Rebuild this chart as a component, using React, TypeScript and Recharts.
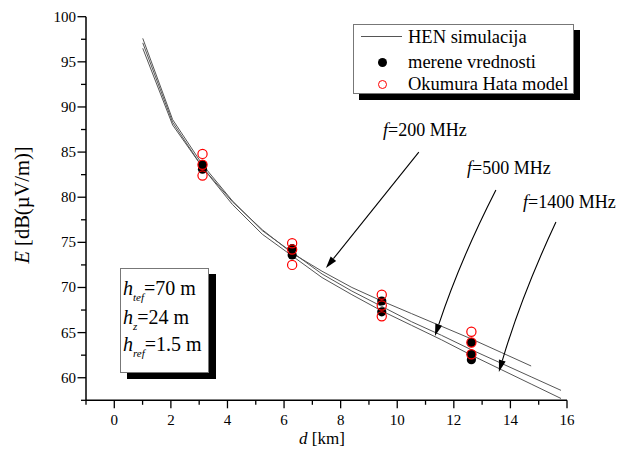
import React from 'react';
import { ComposedChart, Line, Scatter, XAxis, YAxis, ReferenceLine } from 'recharts';

// ---- data ----
const distances = [1, 2, 3, 4, 5, 6, 7, 8, 9, 10, 11, 12, 13, 14, 15];
const hen200 = [96.5, 88.0, 83.3, 79.5, 76.4, 73.8, 71.8, 70.0, 68.5, 67.1, 65.7, 64.3, 62.8, 61.3];
const hen500 = [97.6, 88.6, 83.6, 79.6, 76.3, 73.9, 71.5, 69.6, 67.9, 66.2, 64.7, 63.1, 61.6, 60.1, 58.6];
const hen1400 = [97.1, 88.3, 83.3, 79.2, 75.9, 73.5, 71.1, 69.2, 67.4, 65.8, 64.2, 62.5, 60.9, 59.3, 57.7];

const measuredD = [3, 3, 6, 6, 9, 9, 12, 12, 12];
const measuredE = [83.6, 83.1, 74.3, 73.6, 68.5, 67.3, 63.9, 62.6, 62.0];

const okumuraD = [3, 3, 3, 6, 6, 6, 9, 9, 9, 12, 12, 12];
const okumuraE = [84.8, 83.6, 82.4, 74.9, 74.2, 72.5, 69.2, 68.0, 66.8, 65.1, 63.9, 62.6];

// printed axis labels (as labelled in the original figure)
const xLabels = [-1, 0, 1, 2, 3, 4, 5, 6, 7, 8, 9, 10, 11, 12, 13, 14, 15, 16];
const xLabelRange = [-1, 16];
// distance range the series are plotted on (the printed labels span the same width)
const xDataDomain = [-0.9, 15.2];
const yTicks = [57.5, 60, 62.5, 65, 67.5, 70, 72.5, 75, 77.5, 80, 82.5, 85, 87.5, 90, 92.5, 95, 97.5, 100];

// annotation arrows (data coordinates): from label to curve
const arrowFromD = [10.24, 12.82, 14.83];
const arrowFromE = [85.0, 80.8, 77.25];
const arrowToD = [7.13, 10.78, 12.92];
const arrowToE = [72.15, 64.62, 60.63];
const arrowBend = [0, 6, 6];

const freqLabels = ['200', '500', '1400'];

// ---- tables ----
const mk = (vals: number[]) => vals.map((v, i) => ({ d: distances[i], v }));
const line200 = mk(hen200);
const line500 = mk(hen500);
const line1400 = mk(hen1400);
const measured = measuredD.map((d, i) => ({ d, v: measuredE[i] }));
const okumura = okumuraD.map((d, i) => ({ d, v: okumuraE[i] }));

const labelSpan = xLabelRange[1] - xLabelRange[0];
const dataSpan = xDataDomain[1] - xDataDomain[0];
const labelToData = (L: number) => xDataDomain[0] + ((L - xLabelRange[0]) * dataSpan) / labelSpan;
const dataToLabel = (d: number) => Math.round(xLabelRange[0] + ((d - xDataDomain[0]) * labelSpan) / dataSpan);
const xTicks = xLabels.map(labelToData);

const FONT = '"Liberation Serif", "Times New Roman", serif';

const XTick = (props: any) => {
  const { x, y, payload } = props;
  const v = dataToLabel(payload.value);
  const major = v % 2 === 0;
  return (
    <g>
      <line x1={x} x2={x} y1={y} y2={y + (major ? 8 : 4.5)} stroke="#000" strokeWidth={1.3} />
      {major && (
        <text x={x} y={y + 25} textAnchor="middle" fontSize={15} fontFamily={FONT} fill="#000">
          {v}
        </text>
      )}
    </g>
  );
};

const YTick = (props: any) => {
  const { x, y, payload } = props;
  const v = payload.value;
  const major = v % 5 === 0;
  return (
    <g>
      <line x1={x} x2={x - (major ? 8.5 : 5)} y1={y} y2={y} stroke="#000" strokeWidth={1.3} />
      {major && (
        <text x={x - 10} y={y + 5} textAnchor="end" fontSize={15} fontFamily={FONT} fill="#000">
          {v}
        </text>
      )}
    </g>
  );
};

const ArrowShape = (bend: number) => (props: any) => {
  const { x1, y1, x2, y2 } = props;
  const dx = x2 - x1;
  const dy = y2 - y1;
  const len = Math.sqrt(dx * dx + dy * dy) || 1;
  const nx = -dy / len;
  const ny = dx / len;
  const cx = (x1 + x2) / 2 + nx * bend;
  const cy = (y1 + y2) / 2 + ny * bend;
  const tx = x2 - cx;
  const ty = y2 - cy;
  const tl = Math.sqrt(tx * tx + ty * ty) || 1;
  const ux = tx / tl;
  const uy = ty / tl;
  const hl = 12;
  const hw = 3.5;
  const bx = x2 - ux * hl;
  const by = y2 - uy * hl;
  const p1 = `${bx - uy * hw},${by + ux * hw}`;
  const p2 = `${bx + uy * hw},${by - ux * hw}`;
  return (
    <g>
      <path d={`M${x1},${y1} Q${cx},${cy} ${bx},${by}`} fill="none" stroke="#000" strokeWidth={1.1} />
      <polygon points={`${x2},${y2} ${p1} ${p2}`} fill="#000" />
    </g>
  );
};

const redCircle = (p: any) => (
  <circle cx={p.cx} cy={p.cy} r={4.6} fill="none" stroke="#ff0000" strokeWidth={1.2} />
);
const blackDot = (p: any) => <circle cx={p.cx} cy={p.cy} r={4.6} fill="#000" />;

export default function App() {
  return (
    <div style={{ position: 'relative', width: 618, height: 453, fontFamily: FONT, color: '#000' }}>
      <ComposedChart
        width={618}
        height={453}
        margin={{ top: 8.7, right: 59, bottom: 30.7, left: 0 }}
        style={{ background: '#fff' }}
      >
        <XAxis
          type="number"
          dataKey="d"
          domain={xDataDomain}
          ticks={xTicks}
          interval={0}
          allowDataOverflow
          tickLine={false}
          tickSize={0}
          tickMargin={0}
          tick={<XTick />}
          height={30}
          axisLine={{ stroke: '#000', strokeWidth: 1.5 }}
        />
        <YAxis
          type="number"
          dataKey="v"
          domain={[57.5, 100]}
          ticks={yTicks}
          interval={0}
          allowDataOverflow
          tickLine={false}
          tickSize={0}
          tickMargin={0}
          tick={<YTick />}
          width={78}
          axisLine={{ stroke: '#000', strokeWidth: 1.5 }}
        />
        <Line data={line200} dataKey="v" type="linear" stroke="#555" strokeWidth={1} dot={false} isAnimationActive={false} />
        <Line data={line500} dataKey="v" type="linear" stroke="#555" strokeWidth={1} dot={false} isAnimationActive={false} />
        <Line data={line1400} dataKey="v" type="linear" stroke="#555" strokeWidth={1} dot={false} isAnimationActive={false} />
        <Scatter data={measured} shape={blackDot} isAnimationActive={false} />
        <Scatter data={okumura} shape={redCircle} isAnimationActive={false} />
        {arrowFromD.map((fd, i) => (
          <ReferenceLine
            key={i}
            segment={[
              { x: fd, y: arrowFromE[i] },
              { x: arrowToD[i], y: arrowToE[i] },
            ]}
            ifOverflow="visible"
            shape={ArrowShape(arrowBend[i])}
          />
        ))}
      </ComposedChart>

      {/* frequency labels */}
      {[
        { left: 375, top: 112 },
        { left: 459, top: 150 },
        { left: 515, top: 184 },
      ].map((pos, i) => (
        <div key={i} style={{ position: 'absolute', left: pos.left, top: pos.top, fontSize: 18, whiteSpace: 'nowrap', lineHeight: '20px' }}>
          <i>f</i>={freqLabels[i]} MHz
        </div>
      ))}

      {/* legend */}
      <div
        style={{
          position: 'absolute',
          left: 345,
          top: 16,
          width: 219,
          height: 68,
          border: '1px solid #777',
          background: '#fff',
          boxShadow: '6px 6px 0 #000',
          fontSize: 18.5,
        }}
      >
        <div style={{ position: 'absolute', left: 7, top: 11, width: 41, borderTop: '1px solid #555' }} />
        <div style={{ position: 'absolute', left: 54, top: 2, whiteSpace: 'nowrap', lineHeight: '20px' }}>HEN simulacija</div>
        <div style={{ position: 'absolute', left: 24, top: 33, width: 9, height: 9, borderRadius: '50%', background: '#000' }} />
        <div style={{ position: 'absolute', left: 54, top: 27, whiteSpace: 'nowrap', lineHeight: '20px' }}>merene vrednosti</div>
        <div style={{ position: 'absolute', left: 24, top: 55, width: 7, height: 7, borderRadius: '50%', border: '1.2px solid #ff0000' }} />
        <div style={{ position: 'absolute', left: 54, top: 49, whiteSpace: 'nowrap', lineHeight: '20px' }}>Okumura Hata model</div>
      </div>

      {/* parameter box */}
      <div
        style={{
          position: 'absolute',
          left: 112,
          top: 260,
          width: 87,
          height: 103,
          border: '1px solid #777',
          background: '#fff',
          boxShadow: '7px 6px 0 #000',
          fontSize: 20,
        }}
      >
        {[
          { sub: 'tef', val: '=70 m', top: 9 },
          { sub: 'z', val: '=24 m', top: 38 },
          { sub: 'ref', val: '=1.5 m', top: 65 },
        ].map((r, i) => (
          <div key={i} style={{ position: 'absolute', left: 2, top: r.top, whiteSpace: 'nowrap', lineHeight: '20px' }}>
            <i>h</i>
            <sub style={{ fontSize: 11, fontStyle: 'italic', verticalAlign: '-6px' }}>{r.sub}</sub>
            {r.val}
          </div>
        ))}
      </div>

      {/* axis titles */}
      <div style={{ position: 'absolute', left: 291, top: 421, fontSize: 17, whiteSpace: 'nowrap', lineHeight: '20px' }}>
        <i>d</i> [km]
      </div>
      <div
        style={{
          position: 'absolute',
          left: 14,
          top: 197,
          fontSize: 20.5,
          whiteSpace: 'nowrap',
          lineHeight: '22px',
          transform: 'translate(-50%, -50%) rotate(-90deg)',
        }}
      >
        <i>E</i> [dB(µV/m)]
      </div>
    </div>
  );
}
